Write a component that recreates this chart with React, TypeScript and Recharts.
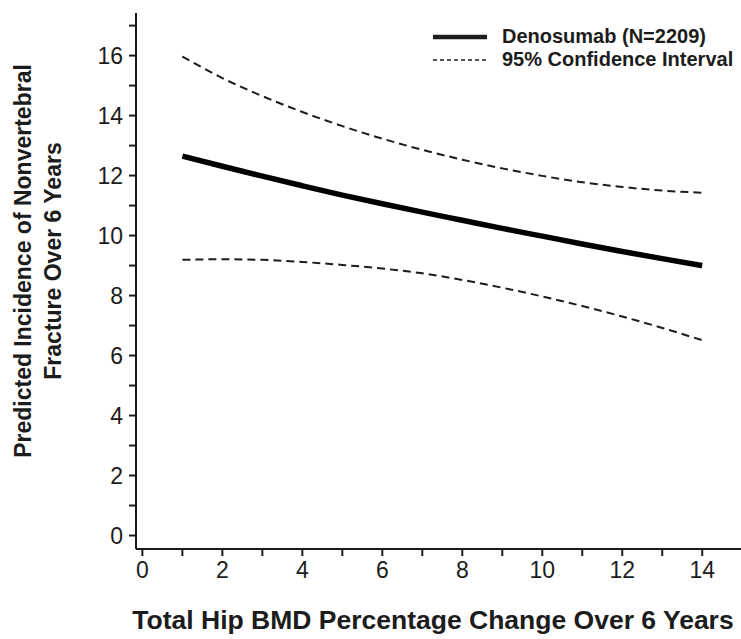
import React from 'react';
import { LineChart, Line, XAxis, YAxis, Legend } from 'recharts';

// x positions (total hip BMD % change) where the model curve was read
const bmdChange = [1, 2, 3, 4, 5, 6, 7, 8, 9, 10, 11, 12, 13, 14];
const predicted = [12.65, 12.31, 11.98, 11.66, 11.35, 11.06, 10.78, 10.51, 10.24, 9.98, 9.72, 9.47, 9.23, 9.0];
const upperCI = [15.97, 15.25, 14.65, 14.12, 13.65, 13.23, 12.86, 12.53, 12.24, 11.99, 11.78, 11.62, 11.5, 11.43];
const lowerCI = [9.19, 9.21, 9.19, 9.12, 9.02, 8.9, 8.74, 8.52, 8.26, 7.97, 7.65, 7.3, 6.92, 6.51];

const xTicks = [0, 1, 2, 3, 4, 5, 6, 7, 8, 9, 10, 11, 12, 13, 14];
const yTicks = [0, 1, 2, 3, 4, 5, 6, 7, 8, 9, 10, 11, 12, 13, 14, 15, 16, 17];

const data = bmdChange.map((x, i) => ({
  x,
  predicted: predicted[i],
  upper: upperCI[i],
  lower: lowerCI[i],
}));

const FONT = '"Liberation Sans", Arial, Helvetica, sans-serif';
const INK = '#1c1c1c';

const evenOnly = (v: number) => (v % 2 === 0 ? String(v) : '');

function CurveLegend() {
  const rows = [
    { label: 'Denosumab (N=2209)', width: 4.5, dash: undefined },
    { label: '95% Confidence Interval', width: 1.5, dash: '4 3' },
  ];
  return (
    <div style={{ fontFamily: FONT, fontWeight: 'bold', fontSize: 20, color: INK }}>
      {rows.map((r) => (
        <div key={r.label} style={{ display: 'flex', alignItems: 'center', height: 23 }}>
          <svg width={54} height={10} style={{ marginRight: 15 }}>
            <line x1={0} y1={5} x2={54} y2={5} stroke={INK} strokeWidth={r.width} strokeDasharray={r.dash} />
          </svg>
          <span>{r.label}</span>
        </div>
      ))}
    </div>
  );
}

export default function App() {
  return (
    <div style={{ position: 'absolute', left: 0, top: 0, width: 741, height: 639, background: '#fff', overflow: 'hidden' }}>
      <LineChart
        width={741}
        height={639}
        data={data}
        margin={{ top: 13, right: 0, bottom: 50, left: 0 }}
        style={{ fontFamily: FONT }}
      >
        <XAxis
          dataKey="x"
          type="number"
          domain={[-0.16, 14.97]}
          ticks={xTicks}
          interval={0}
          tickFormatter={evenOnly}
          allowDataOverflow
          height={40}
          tickSize={7}
          tickMargin={6}
          stroke={INK}
          strokeWidth={2}
          tick={{ fill: INK, fontSize: 23 }}
        />
        <XAxis
          xAxisId="top"
          orientation="top"
          type="number"
          domain={[-0.16, 14.97]}
          height={0}
          tick={false}
          tickLine={false}
          stroke={INK}
          strokeWidth={2}
        />
        <YAxis
          type="number"
          domain={[-0.45, 17.42]}
          ticks={yTicks}
          interval={0}
          tickFormatter={evenOnly}
          allowDataOverflow
          width={136}
          tickSize={7}
          tickMargin={6}
          stroke={INK}
          strokeWidth={2}
          tick={{ fill: INK, fontSize: 23 }}
        />
        <Legend
          layout="vertical"
          align="center"
          verticalAlign="middle"
          content={() => <CurveLegend />}
          wrapperStyle={{ top: 25, left: 433, width: 308 }}
        />
        <Line
          type="monotone"
          dataKey="upper"
          stroke={INK}
          strokeWidth={2}
          strokeDasharray="8 5"
          dot={false}
          isAnimationActive={false}
        />
        <Line
          type="monotone"
          dataKey="lower"
          stroke={INK}
          strokeWidth={2}
          strokeDasharray="8 5"
          dot={false}
          isAnimationActive={false}
        />
        <Line
          type="monotone"
          dataKey="predicted"
          stroke="#000"
          strokeWidth={5.5}
          dot={false}
          isAnimationActive={false}
        />
      </LineChart>
      <div
        style={{
          position: 'absolute',
          left: 38 - 250,
          top: 261 - 30,
          width: 500,
          height: 60,
          transform: 'rotate(-90deg)',
          textAlign: 'center',
          fontFamily: FONT,
          fontWeight: 'bold',
          fontSize: 23,
          lineHeight: '30px',
          color: INK,
        }}
      >
        Predicted Incidence of Nonvertebral
        <br />
        Fracture Over 6 Years
      </div>
      <div
        style={{
          position: 'absolute',
          left: 128,
          top: 605,
          width: 610,
          textAlign: 'center',
          fontFamily: FONT,
          fontWeight: 'bold',
          fontSize: 26.5,
          lineHeight: '30px',
          color: INK,
          whiteSpace: 'nowrap',
        }}
      >
        Total Hip BMD Percentage Change Over 6 Years
      </div>
    </div>
  );
}
